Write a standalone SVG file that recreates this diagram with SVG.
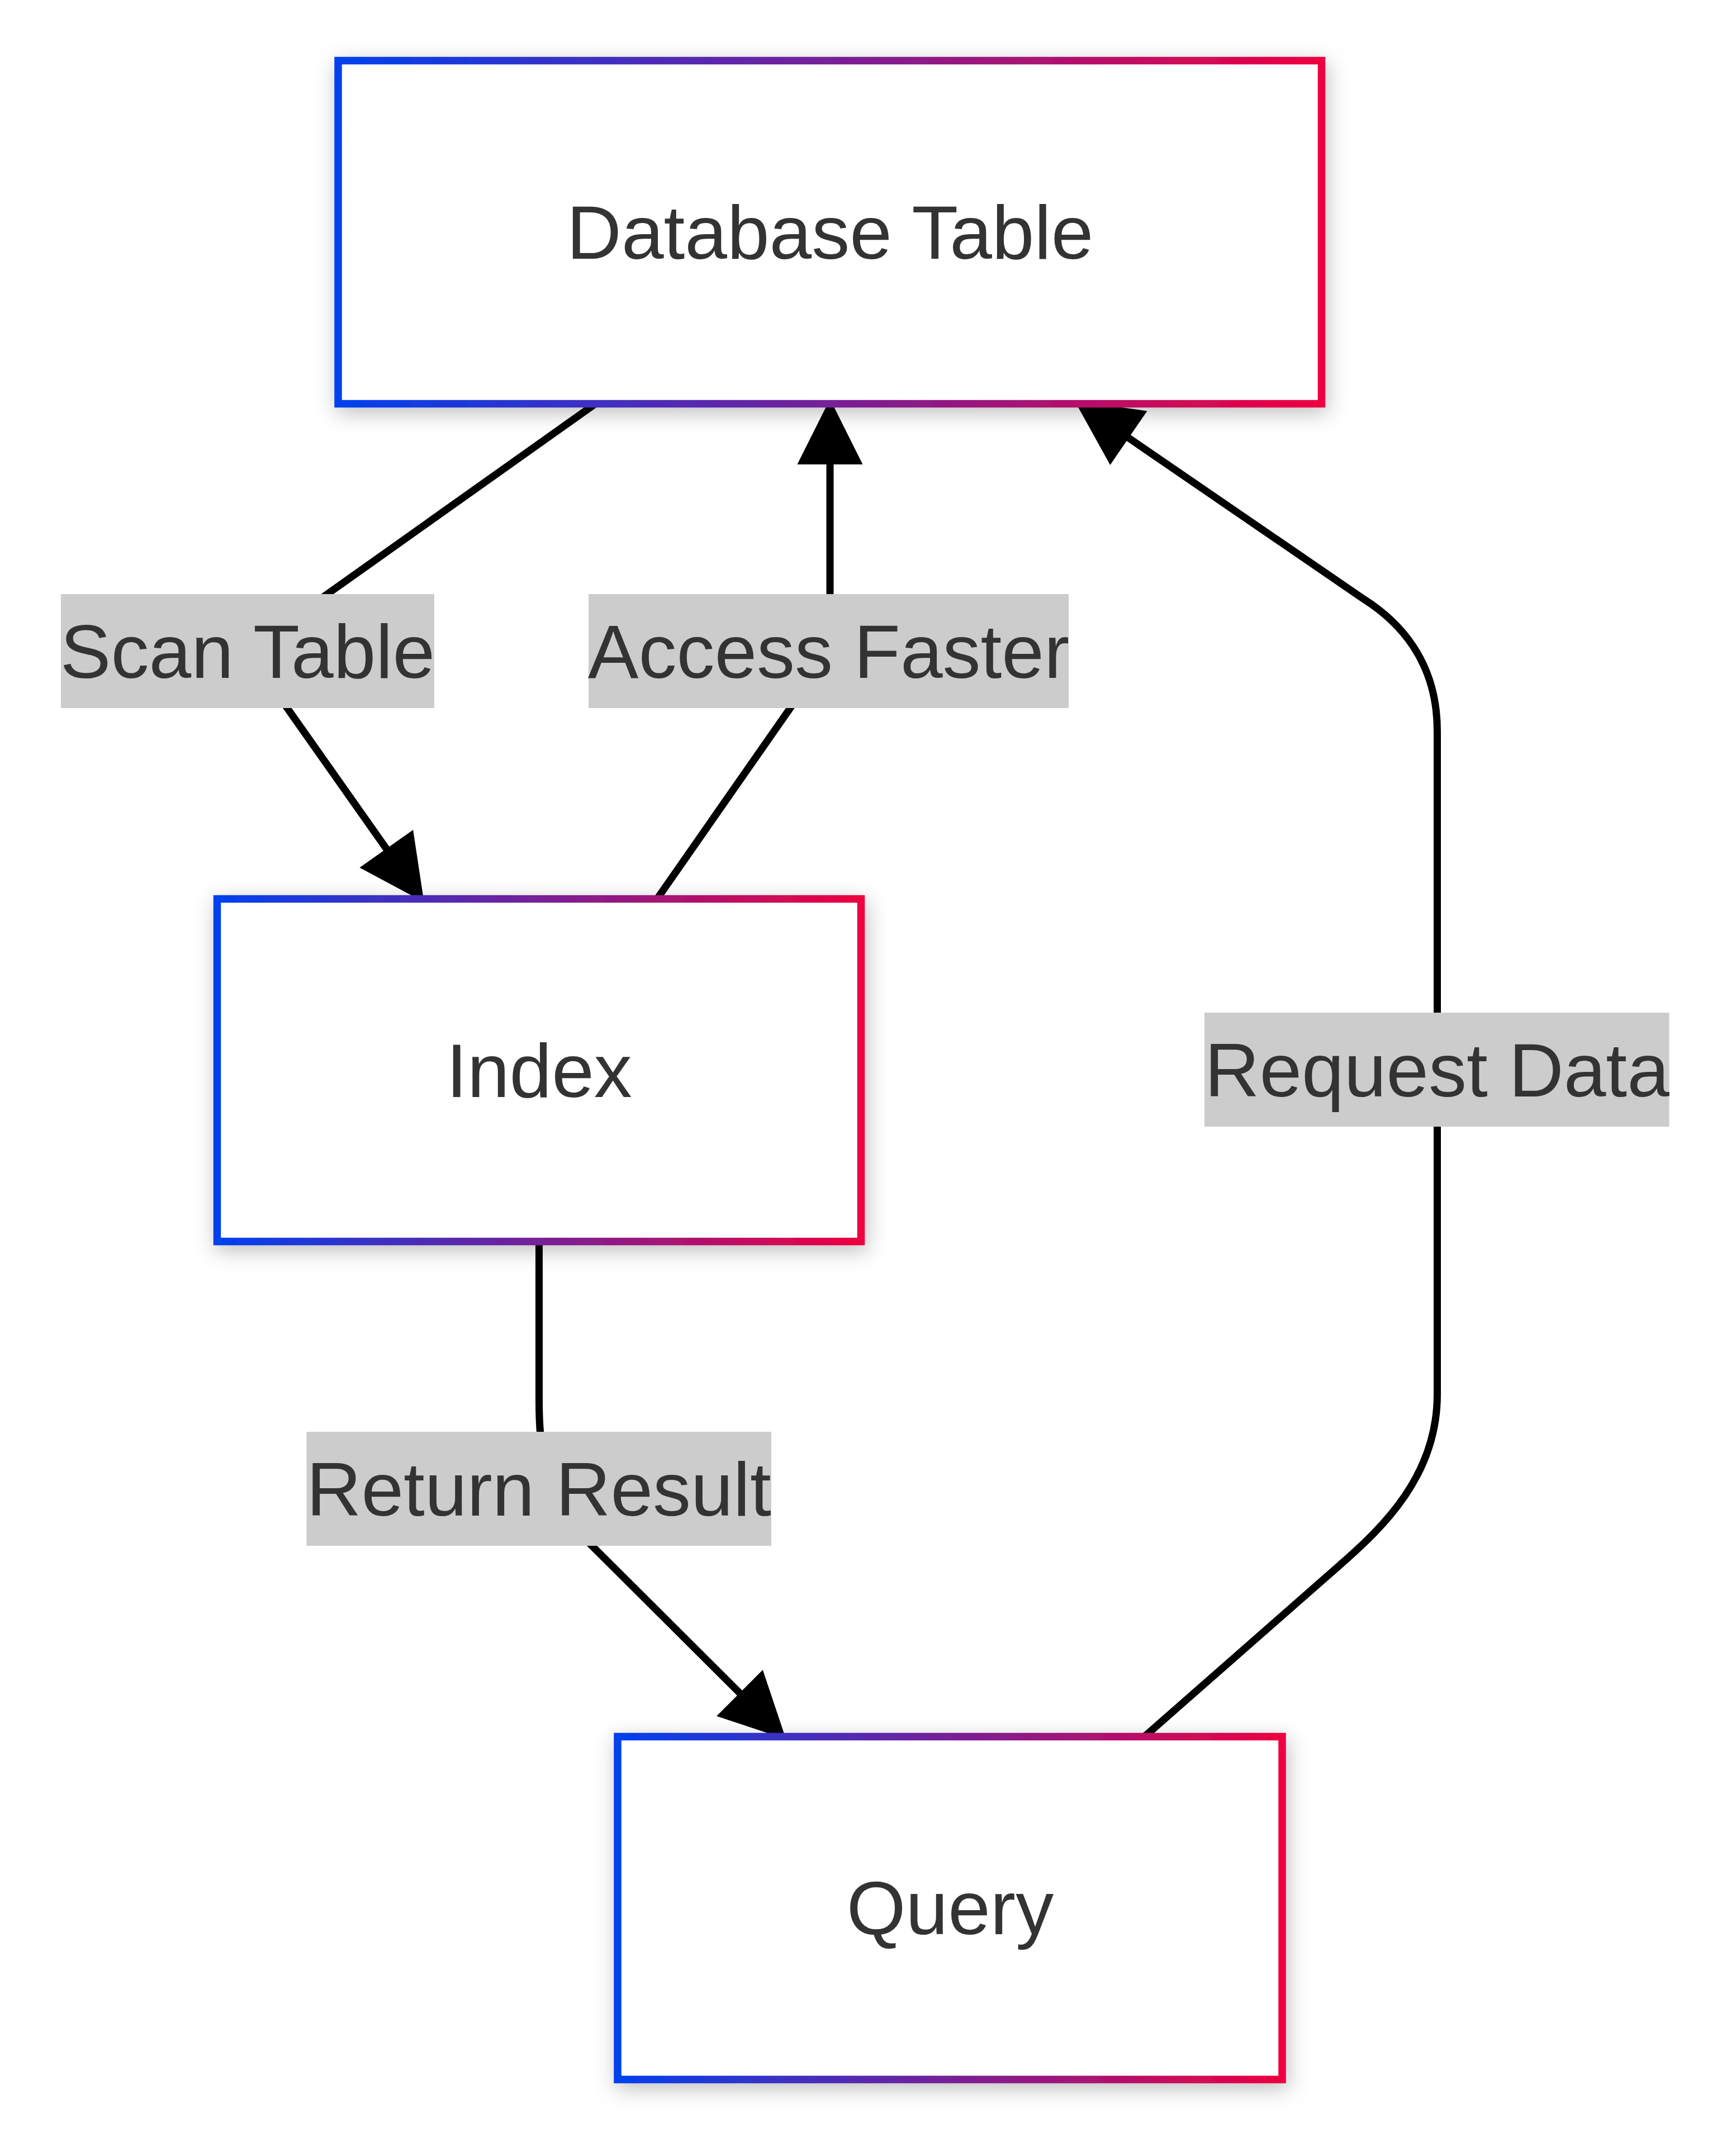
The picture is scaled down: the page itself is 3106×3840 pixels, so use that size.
<svg xmlns="http://www.w3.org/2000/svg" width="3106" height="3840" viewBox="0 0 3106 3840">
  <defs>
    <linearGradient id="nodeStroke" x1="0" y1="0" x2="1" y2="0">
      <stop offset="0" stop-color="#0040EE"/>
      <stop offset="1" stop-color="#EE0040"/>
    </linearGradient>
    <filter id="shadow" x="-10%" y="-15%" width="120%" height="140%">
      <feDropShadow dx="4" dy="10" stdDeviation="18" flood-color="#000" flood-opacity="0.25"/>
    </filter>
    <marker id="arrow" viewBox="0 0 10 10" refX="0" refY="5" markerUnits="userSpaceOnUse" markerWidth="96" markerHeight="96" orient="auto" overflow="visible">
      <path d="M0,0 L10,5 L0,10 z" fill="#000" stroke="#000" stroke-width="1.354"/>
    </marker>
  </defs>
  <style>
    .node rect { fill: #ffffff; stroke: url(#nodeStroke); stroke-width: 13.5; filter: url(#shadow); }
    .node text { font-family: "Liberation Sans", Arial, sans-serif; font-size: 136px; fill: #333333; text-anchor: middle; }
    .edge { fill: none; stroke: #000000; stroke-width: 13; marker-end: url(#arrow); }
    .elabel rect { fill: #cccccc; }
    .elabel text { font-family: "Liberation Sans", Arial, sans-serif; font-size: 136px; fill: #333333; text-anchor: middle; }
  </style>
  <rect x="0" y="0" width="3106" height="3840" fill="#ffffff"/>

  <g id="connectors">
    <path class="edge" id="e-scan" d="M1066,722 L442,1165 L695,1524"/>
    <path class="edge" id="e-access" d="M1176,1608 L1485,1165 L1485,824.5"/>
    <path class="edge" id="e-return" d="M964.5,2222 L964.5,2505 C964.5,2600 975,2640 1020,2727 L1328,3034"/>
    <path class="edge" id="e-request" d="M2047,3108 L2400,2798 C2475,2732 2571.5,2640 2571.5,2495 L2571.5,1308 C2571.5,1180 2500,1110 2440,1072 L2014,780"/>
  </g>

  <g id="edge-labels">
    <g id="label-scan" class="elabel">
      <rect x="109" y="1063" width="668" height="204"/>
      <text x="443" y="1213">Scan Table</text>
    </g>
    <g id="label-access" class="elabel">
      <rect x="1053" y="1063" width="859" height="204"/>
      <text x="1482.5" y="1213">Access Faster</text>
    </g>
    <g id="label-request" class="elabel">
      <rect x="2155" y="1812" width="831.5" height="204"/>
      <text x="2571" y="1962">Request Data</text>
    </g>
    <g id="label-return" class="elabel">
      <rect x="548.5" y="2562" width="831.5" height="204"/>
      <text x="964" y="2712">Return Result</text>
    </g>
  </g>

  <g id="node-database" class="node">
    <rect x="605" y="108.5" width="1759.5" height="614"/>
    <text x="1485" y="463">Database Table</text>
  </g>
  <g id="node-index" class="node">
    <rect x="388.5" y="1608.5" width="1152" height="613"/>
    <text x="964.5" y="1963">Index</text>
  </g>
  <g id="node-query" class="node">
    <rect x="1105" y="3107.5" width="1189" height="613.5"/>
    <text x="1700" y="3461">Query</text>
  </g>
</svg>
